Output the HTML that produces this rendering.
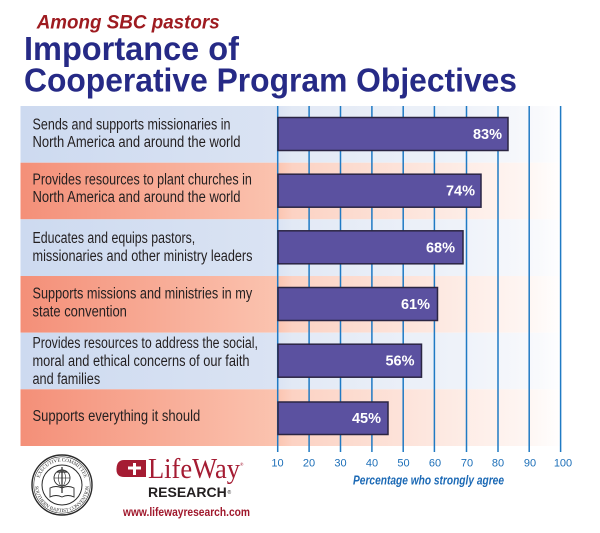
<!DOCTYPE html>
<html><head><meta charset="utf-8"><style>
html,body{margin:0;padding:0;background:#fff;}
svg{display:block;}
</style></head><body>
<svg width="600" height="533" viewBox="0 0 600 533" xmlns="http://www.w3.org/2000/svg" font-family="Liberation Sans, sans-serif">
<defs>
<linearGradient id="og" gradientUnits="userSpaceOnUse" x1="20" y1="0" x2="565" y2="0">
<stop offset="0" stop-color="#f48f78"/>
<stop offset="0.47" stop-color="#fbc3af"/>
<stop offset="0.5" stop-color="#fcd2c3"/>
<stop offset="0.75" stop-color="#fde7df"/>
<stop offset="0.93" stop-color="#fef6f3"/>
<stop offset="1" stop-color="#ffffff"/>
</linearGradient>
<linearGradient id="bg" gradientUnits="userSpaceOnUse" x1="20" y1="0" x2="565" y2="0">
<stop offset="0" stop-color="#cddaf0"/>
<stop offset="0.47" stop-color="#dae3f3"/>
<stop offset="0.5" stop-color="#e2e9f5"/>
<stop offset="0.8" stop-color="#eef2f9"/>
<stop offset="0.95" stop-color="#f8f9fc"/>
<stop offset="1" stop-color="#ffffff"/>
</linearGradient>
<path id="sealTop" d="M 38.5 485 A 23.5 23.5 0 0 1 85.5 485"/>
<path id="sealBot" d="M 35 485 A 27 27 0 0 0 89 485"/>
</defs>

<!-- Title -->
<text x="36.7" y="28.3" font-size="19.5" font-weight="bold" font-style="italic" fill="#9e1b20" textLength="183" lengthAdjust="spacingAndGlyphs">Among SBC pastors</text>
<text x="24" y="60" font-size="33" font-weight="bold" fill="#262a86" textLength="215" lengthAdjust="spacingAndGlyphs">Importance of</text>
<text x="24" y="91.5" font-size="33" font-weight="bold" fill="#262a86" textLength="493" lengthAdjust="spacingAndGlyphs">Cooperative Program Objectives</text>

<!-- Row backgrounds -->
<rect x="20.5" y="106" width="545" height="56.7" fill="url(#bg)"/>
<rect x="20.5" y="162.7" width="545" height="56.6" fill="url(#og)"/>
<rect x="20.5" y="219.3" width="545" height="56.7" fill="url(#bg)"/>
<rect x="20.5" y="276" width="545" height="56.7" fill="url(#og)"/>
<rect x="20.5" y="332.7" width="545" height="56.6" fill="url(#bg)"/>
<rect x="20.5" y="389.3" width="545" height="56.7" fill="url(#og)"/>

<!-- Grid lines -->
<g stroke="#1f7ac4" stroke-width="1.5">
<line x1="277.7" y1="106" x2="277.7" y2="452"/>
<line x1="309.1" y1="106" x2="309.1" y2="452"/>
<line x1="340.5" y1="106" x2="340.5" y2="452"/>
<line x1="371.9" y1="106" x2="371.9" y2="452"/>
<line x1="403.2" y1="106" x2="403.2" y2="452"/>
<line x1="434.4" y1="106" x2="434.4" y2="452"/>
<line x1="466.5" y1="106" x2="466.5" y2="452"/>
<line x1="498" y1="106" x2="498" y2="452"/>
<line x1="529.2" y1="106" x2="529.2" y2="452"/>
<line x1="560.6" y1="106" x2="560.6" y2="452"/>
</g>

<!-- Tick labels -->
<g font-size="11" fill="#1d6fb8" text-anchor="middle">
<text x="277.5" y="466.5">10</text>
<text x="309" y="466.5">20</text>
<text x="340.5" y="466.5">30</text>
<text x="372" y="466.5">40</text>
<text x="403.5" y="466.5">50</text>
<text x="435" y="466.5">60</text>
<text x="467" y="466.5">70</text>
<text x="498" y="466.5">80</text>
<text x="530" y="466.5">90</text>
<text x="563" y="466.5">100</text>
</g>
<text x="353" y="484.5" font-size="13" font-weight="bold" font-style="italic" fill="#1b69b5" textLength="151" lengthAdjust="spacingAndGlyphs">Percentage who strongly agree</text>

<!-- Bars -->
<g fill="#5b51a0" stroke="#2b2543" stroke-width="1.5">
<rect x="278" y="117.5" width="230" height="33"/>
<rect x="278" y="174.2" width="203" height="33"/>
<rect x="278" y="230.8" width="185" height="33"/>
<rect x="278" y="287.5" width="159.5" height="33"/>
<rect x="278" y="344.2" width="143.5" height="33"/>
<rect x="278" y="402" width="110" height="32.5"/>
</g>
<g font-size="14.5" font-weight="bold" fill="#ffffff" text-anchor="end">
<text x="502" y="139">83%</text>
<text x="475" y="195.7">74%</text>
<text x="455" y="252.3">68%</text>
<text x="430" y="309">61%</text>
<text x="414.5" y="365.7">56%</text>
<text x="381" y="423">45%</text>
</g>

<!-- Row labels -->
<g font-size="15.5" fill="#231f20">
<text x="32.5" y="129.5" textLength="198" lengthAdjust="spacingAndGlyphs">Sends and supports missionaries in</text>
<text x="32.5" y="147" textLength="208" lengthAdjust="spacingAndGlyphs">North America and around the world</text>
<text x="32.5" y="184.5" textLength="219.4" lengthAdjust="spacingAndGlyphs">Provides resources to plant churches in</text>
<text x="32.5" y="202" textLength="208" lengthAdjust="spacingAndGlyphs">North America and around the world</text>
<text x="32.5" y="243" textLength="162.7" lengthAdjust="spacingAndGlyphs">Educates and equips pastors,</text>
<text x="32.5" y="261" textLength="220" lengthAdjust="spacingAndGlyphs">missionaries and other ministry leaders</text>
<text x="32.5" y="298.5" textLength="219.7" lengthAdjust="spacingAndGlyphs">Supports missions and ministries in my</text>
<text x="32.5" y="316.5" textLength="94.4" lengthAdjust="spacingAndGlyphs">state convention</text>
<text x="32.5" y="348" textLength="225.4" lengthAdjust="spacingAndGlyphs">Provides resources to address the social,</text>
<text x="32.5" y="366" textLength="217" lengthAdjust="spacingAndGlyphs">moral and ethical concerns of our faith</text>
<text x="32.5" y="384" textLength="67.7" lengthAdjust="spacingAndGlyphs">and families</text>
<text x="32.5" y="421" textLength="167.7" lengthAdjust="spacingAndGlyphs">Supports everything it should</text>
</g>

<!-- Seal -->
<g fill="none" stroke="#2a2a2a">
<circle cx="62" cy="485" r="30" stroke-width="1.4"/>
<circle cx="62" cy="485" r="28.2" stroke-width="0.6"/>
<circle cx="62" cy="485" r="20" stroke-width="1"/>
<circle cx="62" cy="478" r="8" stroke-width="0.9"/>
<ellipse cx="62" cy="478" rx="3.5" ry="8" stroke-width="0.6"/>
<line x1="54" y1="478" x2="70" y2="478" stroke-width="0.6"/>
<line x1="62" y1="467" x2="62" y2="493" stroke-width="1.2"/>
<line x1="57" y1="472" x2="67" y2="472" stroke-width="1.2"/>
<path d="M50 488 L50 497 Q56 494 62 497 Q68 494 74 497 L74 488 Q68 485 62 488 Q56 485 50 488 Z" stroke-width="0.9"/>
</g>
<g font-size="5" fill="#2a2a2a" font-family="Liberation Serif, serif">
<text text-anchor="middle"><textPath href="#sealTop" startOffset="50%">EXECUTIVE COMMITTEE</textPath></text>
<text text-anchor="middle"><textPath href="#sealBot" startOffset="50%">SOUTHERN BAPTIST CONVENTION</textPath></text>
</g>

<!-- LifeWay logo -->
<path d="M124 460 L146 460 L146 477 L124 477 Q116 477 116.5 468.5 Q117 460 124 460 Z" fill="#a51c33"/>
<path d="M133 463 L136 463 L136 466.5 L141 466.5 L141 469.5 L136 469.5 L136 475 L133 475 L133 469.5 L128 469.5 L128 466.5 L133 466.5 Z" fill="#ffffff"/>
<text x="148" y="478" font-family="Liberation Serif, serif" font-size="28" fill="#a51c33" textLength="92" lengthAdjust="spacingAndGlyphs">LifeWay</text>
<text x="240" y="466" font-size="4.5" fill="#a51c33">®</text>
<text x="148" y="497" font-size="13.5" font-weight="bold" fill="#231f20" textLength="78.7" lengthAdjust="spacingAndGlyphs">RESEARCH</text>
<text x="227.5" y="494" font-size="5" fill="#231f20">®</text>
<text x="123" y="516" font-size="11.5" font-weight="bold" fill="#a0182c" textLength="127" lengthAdjust="spacingAndGlyphs">www.lifewayresearch.com</text>
</svg>
</body></html>
